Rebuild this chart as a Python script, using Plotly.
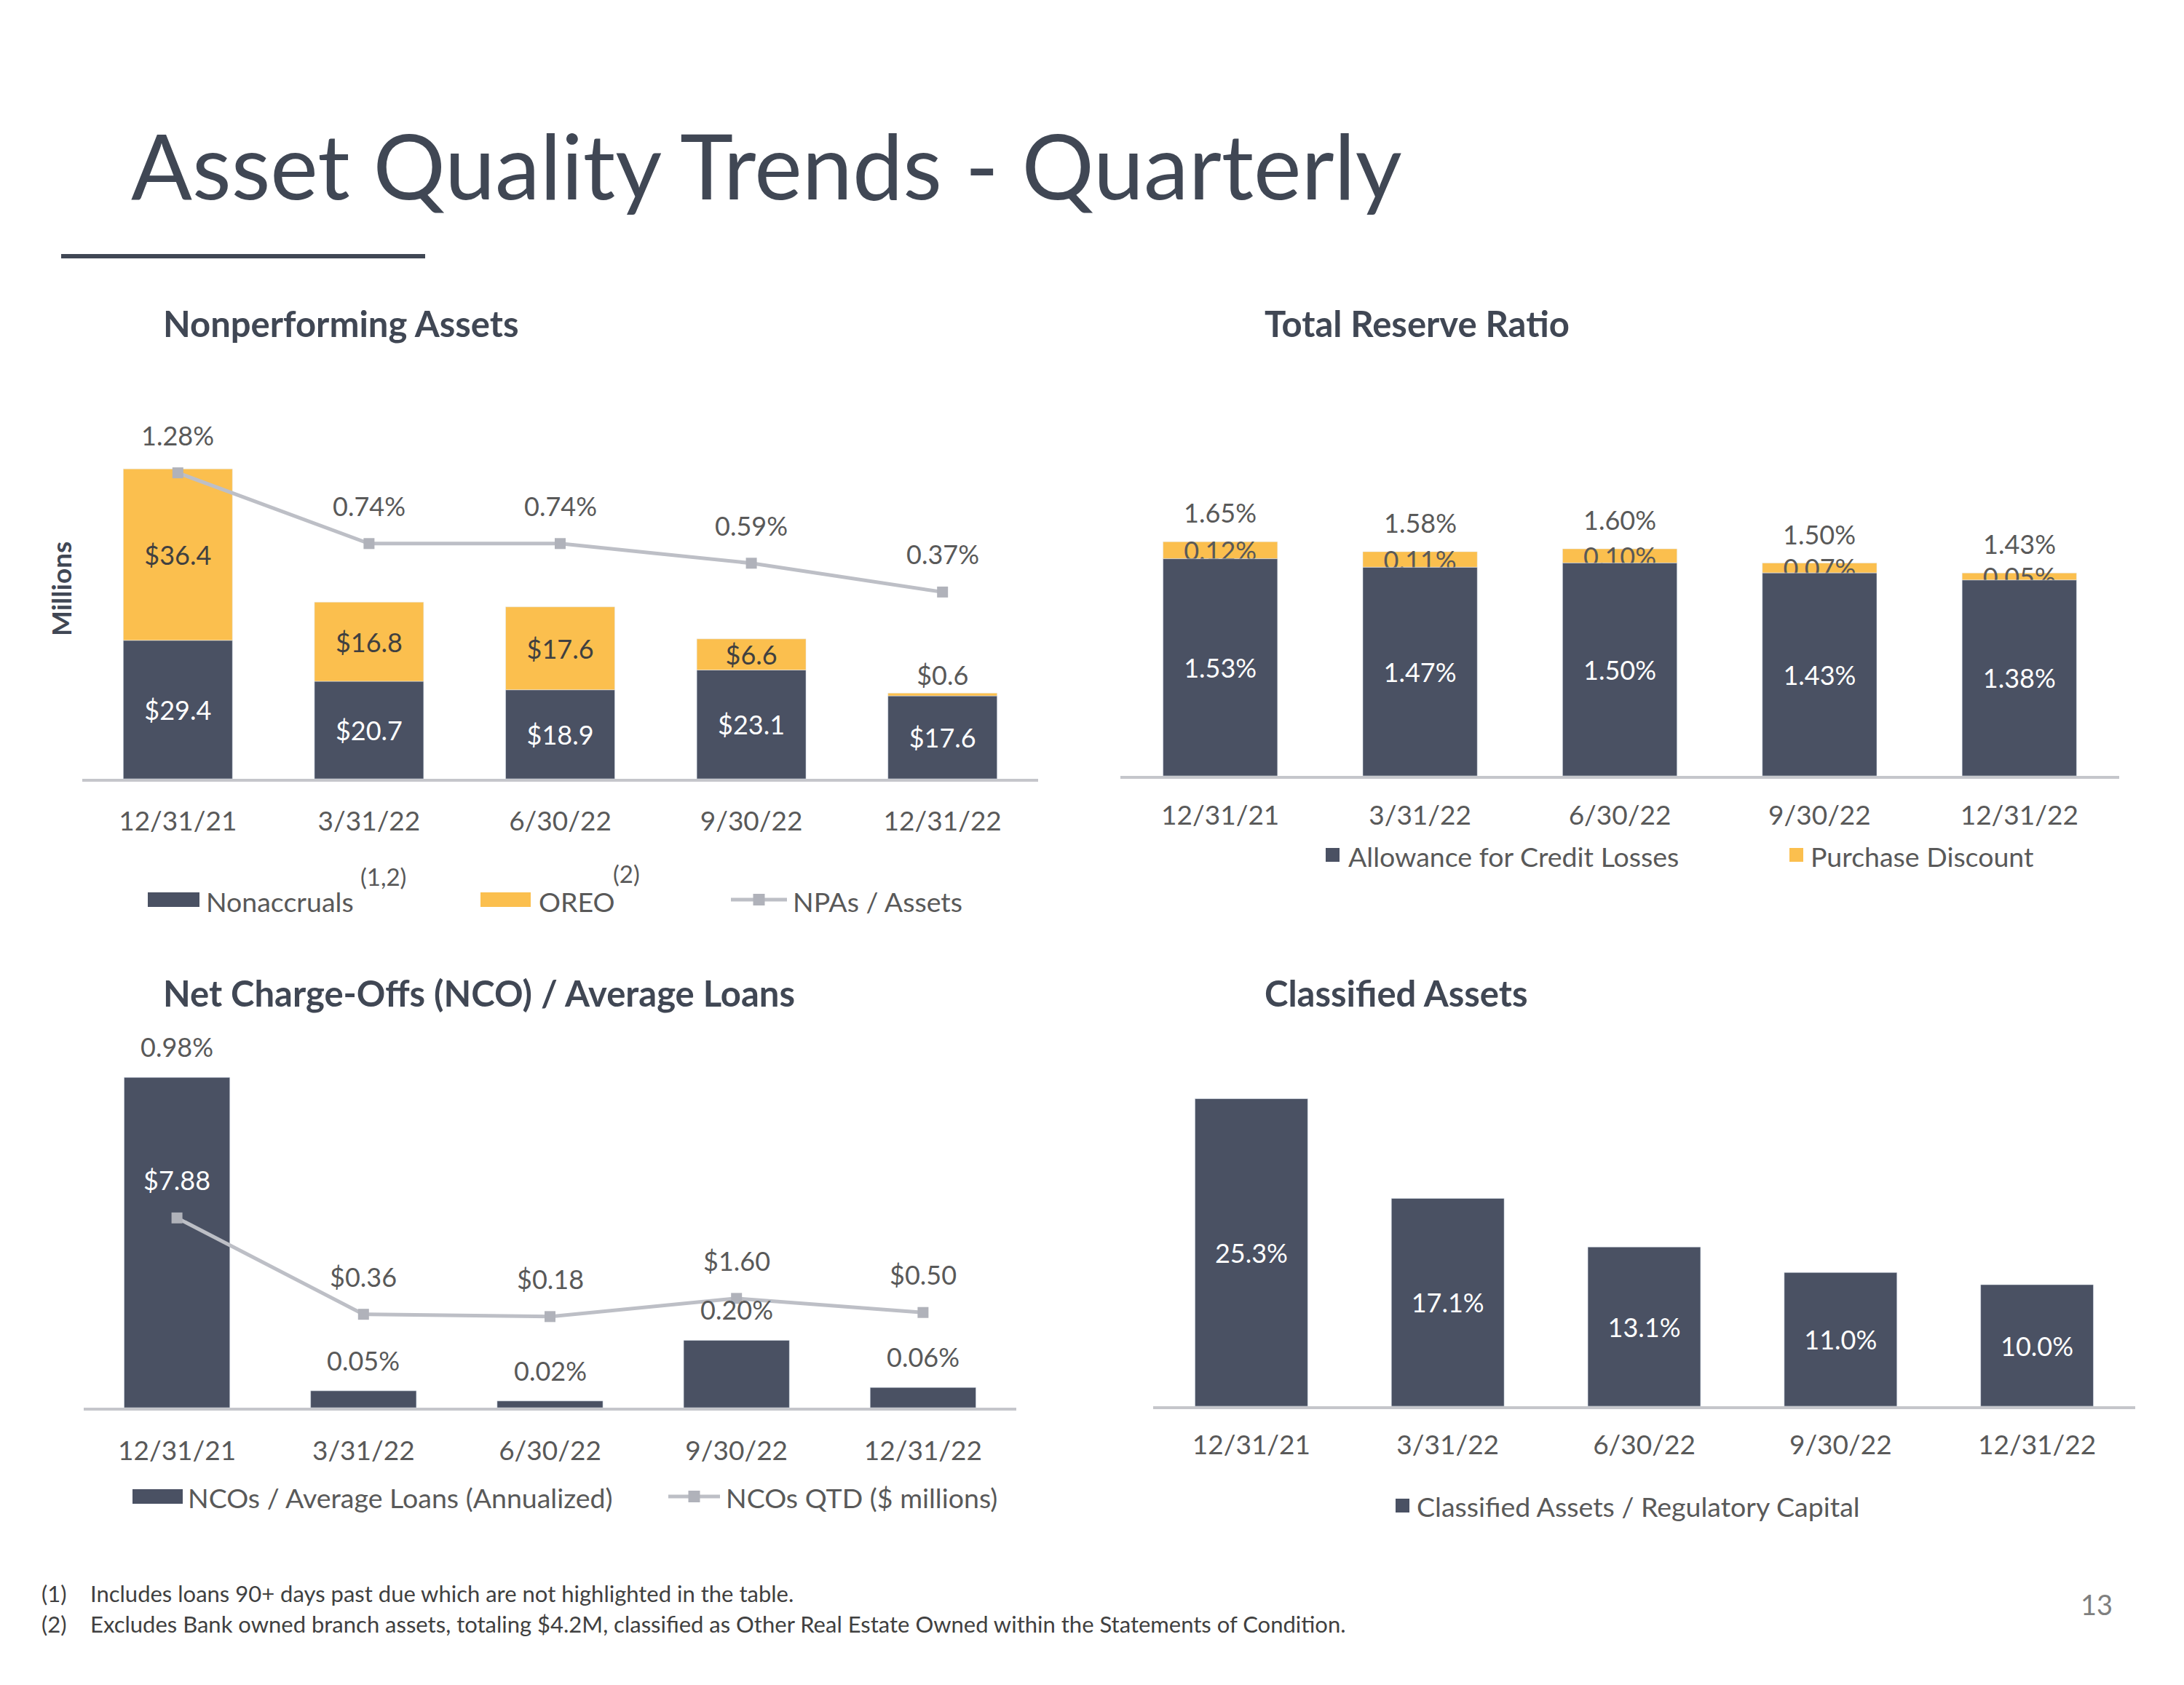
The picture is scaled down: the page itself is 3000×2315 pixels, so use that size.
import plotly.graph_objects as go

# ---------------- data ----------------
quarters = ["12/31/21", "3/31/22", "6/30/22", "9/30/22", "12/31/22"]

nonaccruals = [29.4, 20.7, 18.9, 23.1, 17.6]
oreo = [36.4, 16.8, 17.6, 6.6, 0.6]
npa_to_assets = [1.28, 0.74, 0.74, 0.59, 0.37]

allowance = [1.53, 1.47, 1.50, 1.43, 1.38]
purchase_discount = [0.12, 0.11, 0.10, 0.07, 0.05]
reserve_total = [1.65, 1.58, 1.60, 1.50, 1.43]

nco_ratio = [0.98, 0.05, 0.02, 0.20, 0.06]
nco_qtd = [7.88, 0.36, 0.18, 1.60, 0.50]

classified = [25.3, 17.1, 13.1, 11.0, 10.0]

# ---------------- style ----------------
W, H = 3000, 2315
DARK = "#4A5163"
GOLD = "#FBBF4E"
LINE = "#BDBFC6"
MARK = "#B0B2BA"
AXIS = "#C5C6CB"
TXT = "#595959"
TTL = "#404754"
FONT = "Lato"
FS = 36
TFS = 37


def px(x):
    return x / W


def py(y):
    return 1 - y / H


fig = go.Figure()

# ---- chart 1: Nonperforming assets ----
fig.add_trace(go.Bar(
    x=quarters, y=nonaccruals, xaxis="x", yaxis="y", marker_color=DARK, width=0.571,
    text=[f"${v:.1f}" for v in nonaccruals], textposition="inside", textangle=0,
    constraintext="none", insidetextanchor="middle",
    insidetextfont=dict(color="white", size=FS, family=FONT), showlegend=False))
fig.add_trace(go.Bar(
    x=quarters, y=oreo, base=nonaccruals, xaxis="x", yaxis="y", marker_color=GOLD, width=0.571,
    text=[f"${v:.1f}" for v in oreo],
    textposition=["inside", "inside", "inside", "inside", "outside"], textangle=0,
    constraintext="none", insidetextanchor="middle",
    insidetextfont=dict(color="#404040", size=FS, family=FONT),
    outsidetextfont=dict(color=TXT, size=FS, family=FONT), showlegend=False))
fig.add_trace(go.Scatter(
    x=quarters, y=npa_to_assets, xaxis="x", yaxis="y2", mode="lines+markers",
    line=dict(color=LINE, width=5), marker=dict(symbol="square", size=15, color=MARK),
    showlegend=False))

# ---- chart 2: Total reserve ratio (discount drawn first so its label tucks under) ----
fig.add_trace(go.Bar(
    x=quarters, y=purchase_discount, base=allowance, xaxis="x2", yaxis="y3", marker_color=GOLD,
    width=0.573, text=[f"{v:.2f}%" for v in purchase_discount], textposition="inside",
    textangle=0, constraintext="none", insidetextanchor="middle",
    insidetextfont=dict(color=TXT, size=FS, family=FONT), showlegend=False))
fig.add_trace(go.Bar(
    x=quarters, y=allowance, xaxis="x2", yaxis="y3", marker_color=DARK, width=0.573,
    text=[f"{v:.2f}%" for v in allowance], textposition="inside", textangle=0,
    constraintext="none", insidetextanchor="middle",
    insidetextfont=dict(color="white", size=FS, family=FONT), showlegend=False))

# ---- chart 3: NCO ----
fig.add_trace(go.Bar(
    x=quarters, y=nco_ratio, xaxis="x3", yaxis="y4", marker_color=DARK, width=0.567,
    showlegend=False))
fig.add_trace(go.Scatter(
    x=quarters, y=nco_qtd, xaxis="x3", yaxis="y5", mode="lines+markers",
    line=dict(color=LINE, width=5), marker=dict(symbol="square", size=15, color=MARK),
    showlegend=False))

# ---- chart 4: Classified ----
fig.add_trace(go.Bar(
    x=quarters, y=classified, xaxis="x4", yaxis="y6", marker_color=DARK, width=0.574,
    text=[f"{v:.1f}%" for v in classified], textposition="inside", textangle=0,
    constraintext="none", insidetextanchor="middle",
    insidetextfont=dict(color="white", size=FS, family=FONT), showlegend=False))

# ---------------- axes ----------------
def xax(x0, x1, anchor, standoff):
    return dict(domain=[px(x0), px(x1)], range=[-0.5, 4.5], type="category", anchor=anchor,
                showline=True, linecolor=AXIS, linewidth=4, showgrid=False, zeroline=False,
                ticks="", ticklabelstandoff=standoff,
                tickfont=dict(family=FONT, size=TFS, color=TXT), fixedrange=True)


def yax(top, bottom, rng, anchor, overlaying=None):
    d = dict(domain=[py(bottom), py(top)], range=rng, visible=False, anchor=anchor,
             showgrid=False, zeroline=False, fixedrange=True)
    if overlaying:
        d["overlaying"] = overlaying
    return d


fig.update_layout(
    xaxis=xax(113, 1426, "y", 23),
    yaxis=yax(560, 1070, [0, 78.8], "x"),
    yaxis2=yax(560, 1070, [-1.056, 1.778], "x", "y"),
    xaxis2=xax(1539, 2911, "y3", 19),
    yaxis3=yax(600, 1066, [0, 2.39], "x2"),
    xaxis3=xax(115, 1396, "y4", 24),
    yaxis4=yax(1420, 1934, [0, 1.11], "x3"),
    yaxis5=yax(1420, 1934, [-6.93, 22.27], "x3", "y4"),
    xaxis4=xax(1584, 2933, "y6", 18),
    yaxis6=yax(1420, 1932, [0, 30.66], "x4"),
)

ann = []


def text(x, y, s, size=FS, color=TXT, bold=False, xanchor="left", family=FONT, **kw):
    ann.append(dict(x=px(x), y=py(y), xref="paper", yref="paper", text=s, showarrow=False,
                    xanchor=xanchor, yanchor="middle",
                    font=dict(family=family, size=size, color=color,
                              weight="bold" if bold else "normal"), **kw))


# title
text(178, 226, "Asset Quality Trends - Quarterly", size=124, color=TTL)
# section titles
text(222, 444, "Nonperforming Assets", size=49, color=TTL, bold=True)
text(1735, 444, "Total Reserve Ratio", size=49, color=TTL, bold=True)
text(222, 1364, "Net Charge-Offs (NCO) / Average Loans", size=49, color=TTL, bold=True)
text(1735, 1364, "Classified Assets", size=49, color=TTL, bold=True)
text(84, 809, "Millions", size=37, color=TTL, bold=True, xanchor="center", textangle=-90)

# data labels
for q, v in zip(quarters, npa_to_assets):
    ann.append(dict(x=q, y=v, xref="x", yref="y2", yshift=52, text=f"{v:.2f}%", showarrow=False,
                    font=dict(family=FONT, size=FS, color=TXT)))
for q, v in zip(quarters, reserve_total):
    ann.append(dict(x=q, y=v, xref="x2", yref="y3", yshift=40, text=f"{v:.2f}%", showarrow=False,
                    font=dict(family=FONT, size=FS, color=TXT)))
for q, v in zip(quarters, nco_ratio):
    ann.append(dict(x=q, y=v, xref="x3", yref="y4", yshift=42, text=f"{v:.2f}%", showarrow=False,
                    font=dict(family=FONT, size=FS, color=TXT)))
for i, (q, v) in enumerate(zip(quarters, nco_qtd)):
    ann.append(dict(x=q, y=v, xref="x3", yref="y5", yshift=52, text=f"${v:.2f}", showarrow=False,
                    font=dict(family=FONT, size=FS, color="white" if i == 0 else TXT)))

# legends
LF = 37.5
shapes = []


def rect(x0, y0, x1, y1, color):
    shapes.append(dict(type="rect", xref="paper", yref="paper", x0=px(x0), x1=px(x1),
                       y0=py(y1), y1=py(y0), fillcolor=color, line=dict(width=0)))


def legline(x0, x1, y):
    shapes.append(dict(type="line", xref="paper", yref="paper", x0=px(x0), x1=px(x1),
                       y0=py(y), y1=py(y), line=dict(color=LINE, width=5)))
    xm = (x0 + x1) / 2
    rect(xm - 8, y - 8, xm + 8, y + 8, MARK)


rect(203, 1226, 274, 1246, DARK)
text(281, 1238, "Nonaccruals", size=LF)
text(493, 1204, "(1,2)", size=33)
rect(660, 1226, 729, 1246, GOLD)
text(738, 1238, "OREO", size=LF)
text(840, 1200, "(2)", size=33)
legline(1004, 1081, 1236)
text(1087, 1238, "NPAs / Assets", size=LF)

rect(1821, 1165, 1840, 1184, DARK)
text(1850, 1176, "Allowance for Credit Losses", size=LF)
rect(2458, 1165, 2477, 1184, GOLD)
text(2485, 1176, "Purchase Discount", size=LF)

rect(182, 2046, 251, 2066, DARK)
text(256, 2057, "NCOs / Average Loans (Annualized)", size=LF)
legline(918, 989, 2056)
text(995, 2057, "NCOs QTD ($ millions)", size=LF)

rect(1917, 2059, 1936, 2078, DARK)
text(1944, 2069, "Classified Assets / Regulatory Capital", size=LF)

# footnotes and page number
FN = 31
text(55, 2189, "(1)", size=FN, color="#404040")
text(122, 2189, "Includes loans 90+ days past due which are not highlighted in the table.", size=FN, color="#404040")
text(55, 2231, "(2)", size=FN, color="#404040")
text(122, 2231, "Excludes Bank owned branch assets, totaling $4.2M, classified as Other Real Estate Owned within the Statements of Condition.", size=FN, color="#404040")
text(2880, 2204, "13", size=38, color="#7F7F7F", xanchor="center")

# title underline
shapes.append(dict(type="line", xref="paper", yref="paper", x0=px(84), x1=px(584),
                   y0=py(352), y1=py(352), line=dict(color=TTL, width=6)))

fig.update_layout(
    width=W, height=H, margin=dict(l=0, r=0, t=0, b=0),
    paper_bgcolor="white", plot_bgcolor="white", barmode="overlay",
    annotations=ann, shapes=shapes, showlegend=False,
    font=dict(family=FONT, color=TXT),
)

fig.write_html("out.html")
